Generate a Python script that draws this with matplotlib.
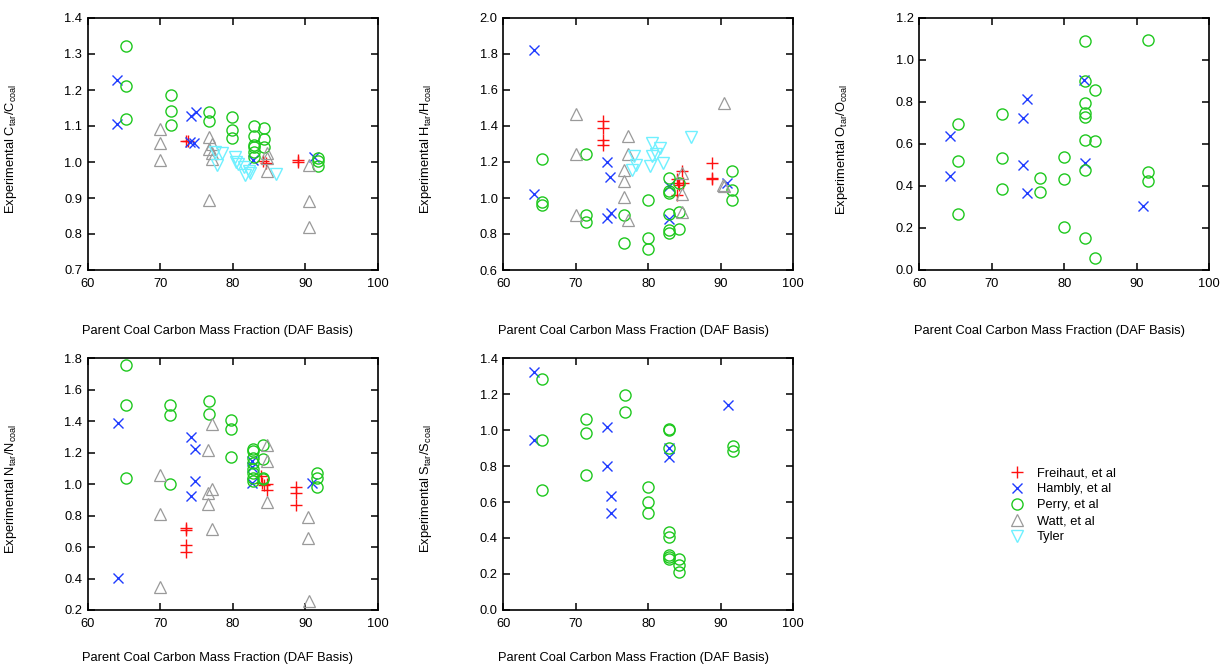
import numpy as np
import matplotlib
matplotlib.use("Agg")
import matplotlib.pyplot as plt

plt.rcParams['font.family'] = ['Liberation Sans', 'DejaVu Sans']
plt.rcParams['mathtext.default'] = 'regular'
plt.rcParams['font.size'] = 9.3

# --- carbon ---
c_freihaut_x = [73.5, 73.8, 84.2, 84.6, 89.0, 89.0]
c_freihaut_y = [1.059, 1.057, 1.002, 0.997, 1.006, 1.001]
c_hambly_x = [64.1, 64.1, 74.3, 74.9, 74.1, 74.7, 82.8, 91.2]
c_hambly_y = [1.227, 1.105, 1.128, 1.140, 1.055, 1.052, 1.006, 1.013]
c_perry_x = [65.3] * 3 + [71.5] * 3 + [76.8] * 2 + [79.9] * 3 + [82.9] * 6 + [84.3] * 3 + [91.7] * 3
c_perry_y = [1.321, 1.212, 1.120, 1.185, 1.142, 1.103, 1.140, 1.114, 1.124, 1.089, 1.068,
             1.099, 1.073, 1.046, 1.041, 1.029, 1.015, 1.094, 1.063, 1.043, 1.011, 1.004, 0.989]
c_watt_x = [70.0] * 3 + [76.7] * 3 + [77.2] * 3 + [84.8] * 3 + [90.5] * 3
c_watt_y = [1.092, 1.052, 1.006, 1.069, 1.036, 0.895, 1.050, 1.025, 1.008,
            1.025, 1.011, 0.974, 0.992, 0.892, 0.819]
c_tyler_x = [77.6, 78.5, 77.9, 80.3, 80.5, 80.8, 81.5, 81.7, 82.2, 82.4, 86.0]
c_tyler_y = [1.029, 1.025, 0.992, 1.015, 1.001, 0.995, 0.986, 0.964, 0.974, 0.969, 0.967]

# --- hydrogen ---
h_freihaut_x = [73.7, 73.7, 73.7, 73.7, 84.0, 84.1, 84.3, 84.8, 84.0, 84.7, 88.8, 88.8, 88.8]
h_freihaut_y = [1.427, 1.390, 1.325, 1.297, 1.103, 1.081, 1.075, 1.081, 1.014, 1.149, 1.192, 1.112, 1.103]
h_hambly_x = [64.2, 64.2, 74.3, 74.7, 74.3, 74.8, 82.9, 82.9, 90.8]
h_hambly_y = [1.821, 1.025, 1.199, 1.118, 0.890, 0.918, 1.066, 0.881, 1.085]
h_perry_x = [65.4] * 3 + [71.4] * 3 + [76.7] * 2 + [79.9] * 3 + [82.9] * 6 + [84.2] * 3 + [91.6] * 3
h_perry_y = [1.218, 0.979, 0.959, 1.247, 0.903, 0.866, 0.905, 0.752, 0.988, 0.776, 0.715,
             1.112, 1.038, 1.030, 0.909, 0.820, 0.807, 1.085, 0.925, 0.829, 1.149, 1.047, 0.987]
h_watt_x = [70.0] * 3 + [76.7] * 3 + [77.2] * 3 + [84.7] * 3 + [90.5, 90.3, 90.5]
h_watt_y = [1.467, 1.247, 0.903, 1.155, 1.094, 1.005, 1.343, 1.247, 0.877,
            1.140, 1.020, 0.922, 1.528, 1.075, 1.066]
h_tyler_x = [78.0, 78.3, 77.7, 80.5, 80.3, 80.5, 81.1, 81.6, 82.0, 85.9]
h_tyler_y = [1.232, 1.186, 1.158, 1.306, 1.177, 1.232, 1.247, 1.279, 1.192, 1.340]

# --- oxygen ---
o_hambly_x = [64.2, 64.2, 74.3, 74.9, 74.3, 74.9, 82.7, 82.8, 90.9]
o_hambly_y = [0.640, 0.450, 0.724, 0.815, 0.502, 0.368, 0.904, 0.510, 0.304]
o_perry_x = [65.3] * 3 + [71.4] * 3 + [76.7] * 2 + [79.9] * 3 + [82.8] * 8 + [84.2] * 3 + [91.6] * 3
o_perry_y = [0.696, 0.521, 0.269, 0.743, 0.531, 0.387, 0.439, 0.371, 0.539, 0.434, 0.204,
             1.089, 0.899, 0.796, 0.748, 0.729, 0.618, 0.476, 0.154, 0.856, 0.613, 0.059,
             1.097, 0.466, 0.426]

# --- nitrogen ---
n_freihaut_x = [73.6] * 4 + [83.9, 84.0, 84.3, 84.8, 84.7] + [88.8] * 3
n_freihaut_y = [0.723, 0.709, 0.613, 0.571, 1.048, 1.005, 0.995, 1.001, 0.963, 0.978, 0.942, 0.868]
n_hambly_x = [64.2, 64.2, 74.2, 74.8, 74.8, 74.2, 82.7, 82.7, 82.7, 91.0]
n_hambly_y = [1.387, 0.401, 1.296, 1.221, 1.022, 0.925, 1.143, 1.111, 1.005, 1.005]
n_perry_x = [65.3] * 3 + [71.4] * 3 + [76.7] * 2 + [79.8] * 3 + [82.8] * 8 + [84.2] * 4 + [91.6] * 3
n_perry_y = [1.753, 1.503, 1.041, 1.503, 1.436, 1.001, 1.525, 1.446, 1.404, 1.351, 1.171,
             1.221, 1.211, 1.168, 1.133, 1.094, 1.069, 1.037, 1.016, 1.249, 1.158, 1.041, 1.031,
             1.073, 1.037, 0.984]
n_watt_x = [70.0] * 3 + [76.6] * 3 + [77.2] * 3 + [84.7] * 3 + [90.4, 90.4, 90.5]
n_watt_y = [1.058, 0.810, 0.348, 1.217, 0.946, 0.874, 1.383, 0.969, 0.715,
            1.249, 1.143, 0.885, 0.793, 0.660, 0.259]

# --- sulfur ---
s_hambly_x = [64.2, 64.2, 74.3, 74.3, 74.8, 74.8, 82.9, 82.9, 91.0]
s_hambly_y = [1.320, 0.947, 1.016, 0.802, 0.636, 0.537, 0.900, 0.850, 1.139]
s_perry_x = [65.4] * 3 + [71.4] * 3 + [76.8] * 2 + [80.0] * 3 + [82.9] * 8 + [84.3] * 3 + [91.7] * 2
s_perry_y = [1.283, 0.947, 0.667, 1.059, 0.984, 0.748, 1.195, 1.100, 0.686, 0.598, 0.537,
             1.003, 1.000, 0.900, 0.434, 0.406, 0.308, 0.294, 0.281, 0.285, 0.252, 0.211,
             0.913, 0.885]

labels = ['Freihaut, et al', 'Hambly, et al', 'Perry, et al', 'Watt, et al', 'Tyler']
styles = {
    'Freihaut, et al': dict(marker='+', color='#ff1010', ms=8, mew=1.0, ls='none'),
    'Hambly, et al': dict(marker='x', color='#1f3cff', ms=7, mew=1.0, ls='none'),
    'Perry, et al': dict(marker='o', mfc='none', mec='#1ec81e', ms=8, mew=1.0, ls='none'),
    'Watt, et al': dict(marker='^', mfc='none', mec='#9a9a9a', ms=8, mew=0.9, ls='none'),
    'Tyler': dict(marker='v', mfc='none', mec='#6ff0ff', ms=8, mew=1.0, ls='none'),
}

fig = plt.figure(figsize=(12.25, 6.67), dpi=100)
W, H = 1225, 667
aw, ah = 290 / W, 252 / H
lefts = [87.7 / W, 503.3 / W, 919.3 / W]
b_top, b_bot = 1 - 270 / H, 1 - 610 / H

panels = [
    (lefts[0], b_top, 'C', (0.7, 1.4), 0.1,
     [('Freihaut, et al', c_freihaut_x, c_freihaut_y), ('Hambly, et al', c_hambly_x, c_hambly_y),
      ('Perry, et al', c_perry_x, c_perry_y), ('Watt, et al', c_watt_x, c_watt_y),
      ('Tyler', c_tyler_x, c_tyler_y)]),
    (lefts[1], b_top, 'H', (0.6, 2.0), 0.2,
     [('Freihaut, et al', h_freihaut_x, h_freihaut_y), ('Hambly, et al', h_hambly_x, h_hambly_y),
      ('Perry, et al', h_perry_x, h_perry_y), ('Watt, et al', h_watt_x, h_watt_y),
      ('Tyler', h_tyler_x, h_tyler_y)]),
    (lefts[2], b_top, 'O', (0.0, 1.2), 0.2,
     [('Hambly, et al', o_hambly_x, o_hambly_y), ('Perry, et al', o_perry_x, o_perry_y)]),
    (lefts[0], b_bot, 'N', (0.2, 1.8), 0.2,
     [('Freihaut, et al', n_freihaut_x, n_freihaut_y), ('Hambly, et al', n_hambly_x, n_hambly_y),
      ('Perry, et al', n_perry_x, n_perry_y), ('Watt, et al', n_watt_x, n_watt_y)]),
    (lefts[1], b_bot, 'S', (0.0, 1.4), 0.2,
     [('Hambly, et al', s_hambly_x, s_hambly_y), ('Perry, et al', s_perry_x, s_perry_y)]),
]

handles = {}
for left, bottom, el, ylim, step, series in panels:
    ax = fig.add_axes([left, bottom, aw, ah])
    for name, xs, ys in series:
        h, = ax.plot(xs, ys, **styles[name], label=name)
        handles[name] = h
    ax.set_xlim(60, 100)
    ax.set_ylim(*ylim)
    ax.set_xticks(np.arange(60, 101, 10))
    ax.set_yticks(np.arange(ylim[0], ylim[1] + step / 2, step))
    ax.yaxis.set_major_formatter(matplotlib.ticker.FormatStrFormatter('%.1f'))
    ax.tick_params(direction='in', length=5, width=1.1, top=True, right=True, labelsize=9.3)
    ax.tick_params(axis='x', pad=5.5)
    ax.tick_params(axis='y', pad=4)
    for sp in ax.spines.values():
        sp.set_linewidth(1.2)
    ax.set_xlabel('Parent Coal Carbon Mass Fraction (DAF Basis)')
    # bottom row label pulled up a bit so it stays inside the figure
    ax.xaxis.set_label_coords(0.449, -0.218 if bottom == b_top else -0.168)
    ax.set_ylabel('Experimental %s$_{tar}$/%s$_{coal}$' % (el, el))
    ax.yaxis.set_label_coords(-0.238, 0.48)

fig.legend([handles[l] for l in labels], labels, loc='upper left',
           bbox_to_anchor=(1003 / W, 1 - 461 / H), frameon=False, fontsize=9.3,
           handlelength=1.2, handletextpad=0.9, labelspacing=0.3, borderpad=0)

fig.savefig('out.png', dpi=100)
